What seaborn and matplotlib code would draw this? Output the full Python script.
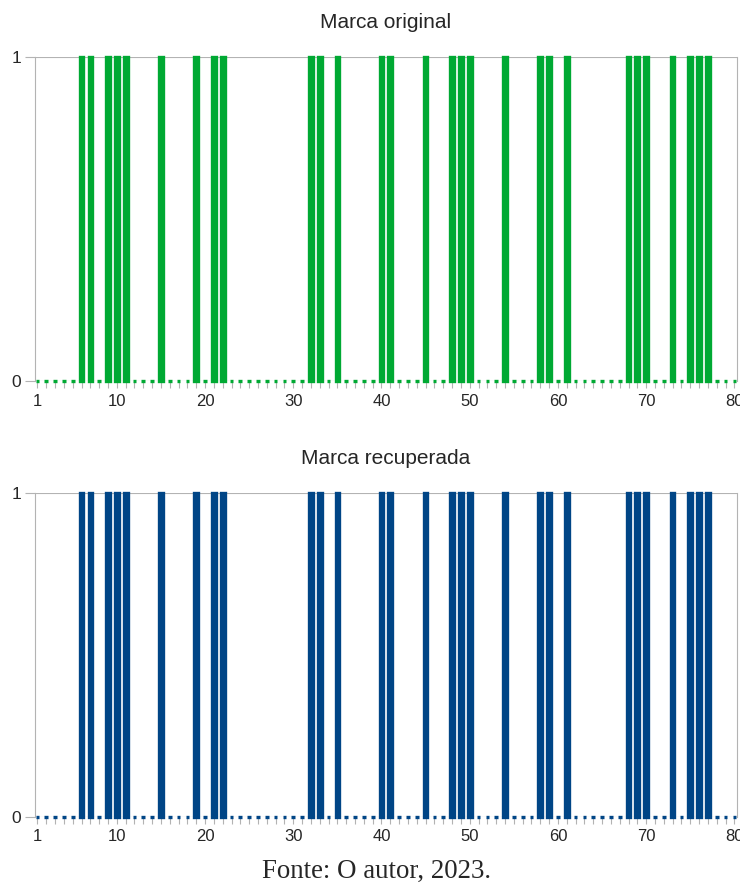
import matplotlib
matplotlib.use("Agg")
import matplotlib.pyplot as plt
import seaborn as sns
import numpy as np

# bit positions (1..80) that are set to 1 in each mark
positions = list(range(1, 81))
ones_original = [6, 7, 9, 10, 11, 15, 19, 21, 22, 32, 33, 35, 40, 41, 45, 48, 49, 50,
                 54, 58, 59, 61, 68, 69, 70, 73, 75, 76, 77]
ones_recovered = [6, 7, 9, 10, 11, 15, 19, 21, 22, 32, 33, 35, 40, 41, 45, 48, 49, 50,
                  54, 58, 59, 61, 68, 69, 70, 73, 75, 76, 77]
original = [1 if p in ones_original else 0 for p in positions]
recovered = [1 if p in ones_recovered else 0 for p in positions]

titles = ["Marca original", "Marca recuperada"]
colors = ["#00a933", "#004586"]
xtick_labels = [1, 10, 20, 30, 40, 50, 60, 70, 80]
caption = "Fonte: O autor, 2023."

sns.set_style("white")
plt.rcParams["font.family"] = ["Liberation Sans", "DejaVu Sans"]
grey = "#b3b3b3"

fig = plt.figure(figsize=(7.4, 8.84), dpi=100)
ax1 = fig.add_axes([0.047, 0.569, 0.949, 0.3665])
ax2 = fig.add_axes([0.047, 0.0758, 0.949, 0.3665])

for ax, vals, title, color in zip([ax1, ax2], [original, recovered], titles, colors):
    sns.barplot(x=positions, y=vals, native_scale=True, width=0.42, color=color,
                edgecolor=color, linewidth=2.4, saturation=1, ax=ax)
    for p in ax.patches:
        p.set_clip_on(False)
    ax.set_xlim(0.7, 80.3)
    ax.set_ylim(0, 1)
    ax.set_yticks([0, 1])
    ax.set_yticklabels(["0", "1"])
    ax.set_xticks(xtick_labels)
    ax.set_xticklabels([str(v) for v in xtick_labels])
    ax.set_xticks(positions, minor=True)
    ax.tick_params(axis="x", which="both", direction="out", length=5, width=0.8,
                   color=grey, labelsize=12, pad=4, bottom=True)
    ax.tick_params(axis="y", direction="out", length=7, width=0.8, color=grey,
                   labelsize=12.5, pad=3, left=True)
    for yv in [0, 1]:
        ax.axhline(yv, color=grey, lw=0.8, zorder=0)
    for s in ["top", "bottom"]:
        ax.spines[s].set_visible(False)
    for s in ["left", "right"]:
        ax.spines[s].set_color(grey)
        ax.spines[s].set_linewidth(0.8)
    ax.set_title(title, fontsize=15, pad=21)
    ax.set_xlabel("")
    ax.set_ylabel("")

fig.text(0.509, 0.007, caption, ha="center", va="baseline", fontsize=19.4,
         family=["Liberation Serif", "DejaVu Serif"])

fig.savefig("out.png", dpi=100)
